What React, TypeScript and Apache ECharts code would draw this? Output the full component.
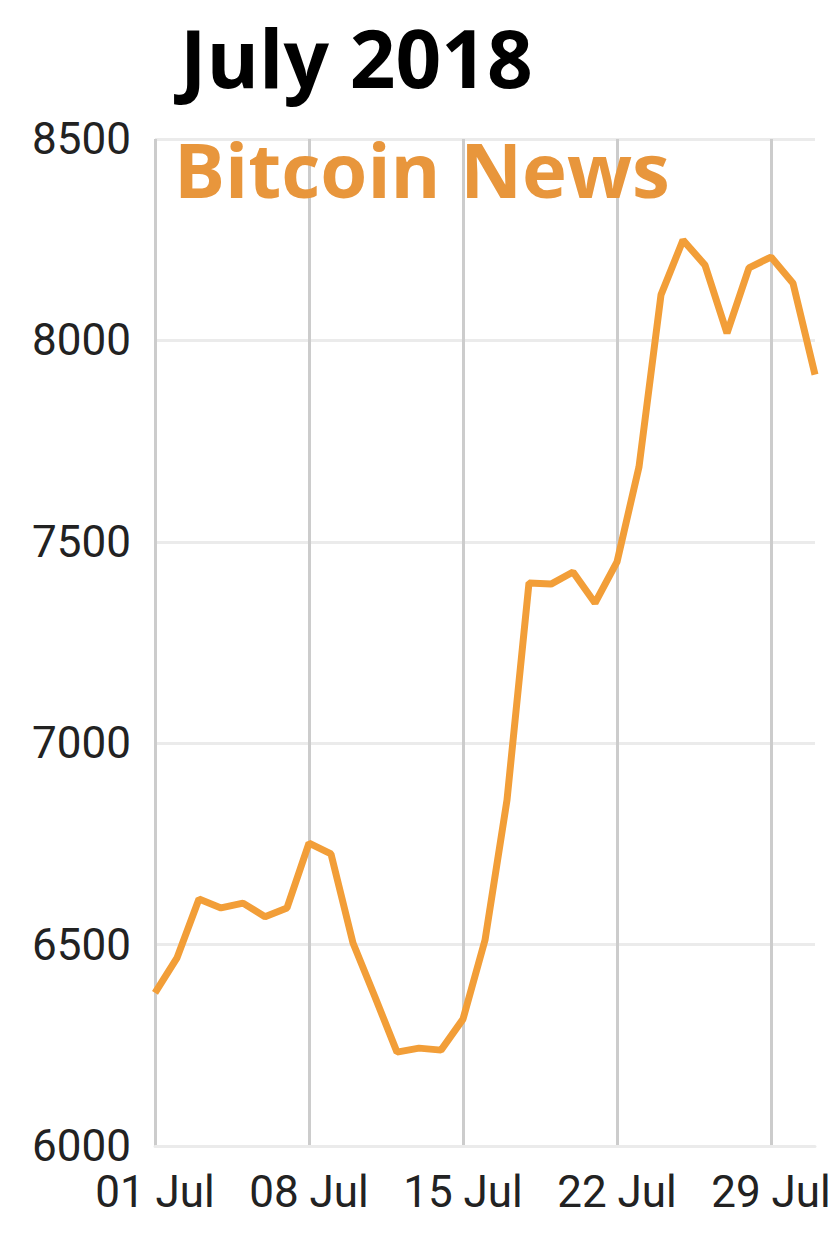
import React, { useEffect, useRef } from "react";
import * as echarts from "echarts";

const days: string[] = [
  "01 Jul", "02 Jul", "03 Jul", "04 Jul", "05 Jul", "06 Jul", "07 Jul", "08 Jul",
  "09 Jul", "10 Jul", "11 Jul", "12 Jul", "13 Jul", "14 Jul", "15 Jul", "16 Jul",
  "17 Jul", "18 Jul", "19 Jul", "20 Jul", "21 Jul", "22 Jul", "23 Jul", "24 Jul",
  "25 Jul", "26 Jul", "27 Jul", "28 Jul", "29 Jul", "30 Jul", "31 Jul",
];

const prices: number[] = [
  6380, 6467, 6613, 6591, 6603, 6569, 6591, 6752, 6725, 6504, 6370, 6233, 6243,
  6238, 6315, 6511, 6859, 7398, 7395, 7425, 7348, 7450, 7686, 8113, 8249, 8187,
  8018, 8180, 8207, 8142, 7915,
];

const titleText = "July 2018";
const subtitleText = "Bitcoin News";

export default function App() {
  const ref = useRef<HTMLDivElement>(null);
  useEffect(() => {
    document.body.style.margin = "0";
    if (!ref.current) return;
    const chart = echarts.init(ref.current, null, { renderer: "svg" });
    chart.setOption({
      animation: false,
      backgroundColor: "#ffffff",
      title: [
        {
          text: titleText,
          left: 175,
          top: 11,
          textStyle: {
            fontFamily: "Open Sans",
            fontWeight: "bold",
            fontSize: 80,
            lineHeight: 80,
            color: "#000000",
          },
        },
        {
          text: subtitleText,
          left: 169,
          top: 125,
          textStyle: {
            fontFamily: "Open Sans",
            fontWeight: "bold",
            fontSize: 76,
            lineHeight: 76,
            color: "#E8963C",
          },
        },
      ],
      grid: { left: 155, right: 25, top: 139, bottom: 94, containLabel: false },
      xAxis: {
        type: "category",
        data: days,
        boundaryGap: false,
        axisLine: { show: true, lineStyle: { color: "#ebebeb", width: 3 } },
        axisTick: { show: false },
        axisLabel: {
          interval: 6,
          margin: 24,
          fontFamily: "Roboto",
          fontSize: 44,
          color: "#222222",
        },
        splitLine: {
          show: true,
          interval: 6,
          lineStyle: { color: "#cccccc", width: 3 },
        },
      },
      yAxis: {
        type: "value",
        min: 6000,
        max: 8500,
        interval: 500,
        axisLine: { show: false },
        axisTick: { show: false },
        axisLabel: {
          margin: 24,
          fontFamily: "Roboto",
          fontSize: 44,
          color: "#222222",
          formatter: (v: number) => String(v),
        },
        splitLine: { show: true, lineStyle: { color: "#ebebeb", width: 3 } },
      },
      series: [
        {
          type: "line",
          data: prices,
          symbol: "none",
          lineStyle: { color: "#F29E38", width: 7 },
          z: 5,
        },
      ],
    });
    return () => chart.dispose();
  }, []);
  return <div ref={ref} style={{ width: 840, height: 1240 }} />;
}
